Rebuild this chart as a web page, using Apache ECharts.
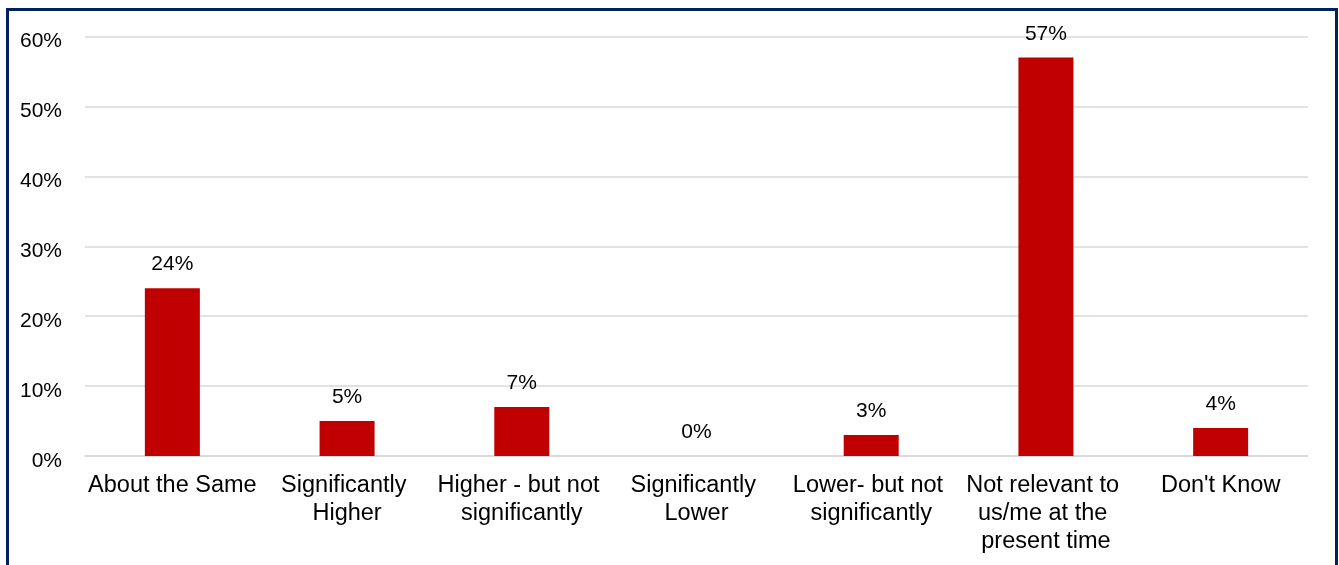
<!DOCTYPE html>
<html>
<head>
<meta charset="utf-8">
<script src="https://cdn.jsdelivr.net/npm/echarts@6/dist/echarts.min.js"></script>
<style>
  html, body { margin: 0; padding: 0; background: #fff; }
  #chart { width: 1339px; height: 565px; }
</style>
</head>
<body>
<div id="chart"></div>
<script>
const categories = ['About the Same', 'Significantly Higher', 'Higher - but not significantly', 'Significantly Lower', 'Lower- but not significantly', 'Not relevant to us/me at the present time', "Don't Know"]
const values = [24, 5, 7, 0, 3, 57, 4]
const yTicks = [0, 10, 20, 30, 40, 50, 60]

const chart = echarts.init(document.getElementById('chart'))
chart.setOption({
    animation: false,
    textStyle: { fontFamily: 'Arial, "Liberation Sans", sans-serif' },
    graphic: [{
        type: 'rect',
        shape: { x: 7.5, y: 9.5, width: 1329, height: 620 },
        style: { fill: 'none', stroke: '#002060', lineWidth: 3 },
        silent: true
    }],
    grid: {
        left: 85,
        right: 31,
        top: 36.5,
        bottom: 109,
        containLabel: false
    },
    xAxis: {
        type: 'category',
        data: categories,
        axisTick: { show: false },
        axisLine: { show: true, lineStyle: { color: '#d9d9d9', width: 1.5 } },
        axisLabel: {
            interval: 0,
            color: '#000',
            fontSize: 23.5,
            lineHeight: 28,
            margin: 16,
            width: 176,
            overflow: 'break'
        }
    },
    yAxis: {
        type: 'value',
        min: yTicks[0],
        max: yTicks[yTicks.length - 1],
        interval: 10,
        axisLine: { show: false },
        axisTick: { show: false },
        splitLine: { lineStyle: { color: '#d9d9d9', width: 1.5 } },
        axisLabel: {
            color: '#000',
            fontSize: 21,
            margin: 23,
            verticalAlign: 'top',
            lineHeight: 10,
            formatter: v => v + '%'
        }
    },
    series: [{
        type: 'bar',
        data: values,
        barWidth: 55,
        itemStyle: { color: '#c00000' },
        label: {
            show: true,
            position: 'top',
            distance: 13,
            color: '#000',
            fontSize: 21,
            formatter: p => p.value + '%'
        }
    }]
})
</script>
</body>
</html>
